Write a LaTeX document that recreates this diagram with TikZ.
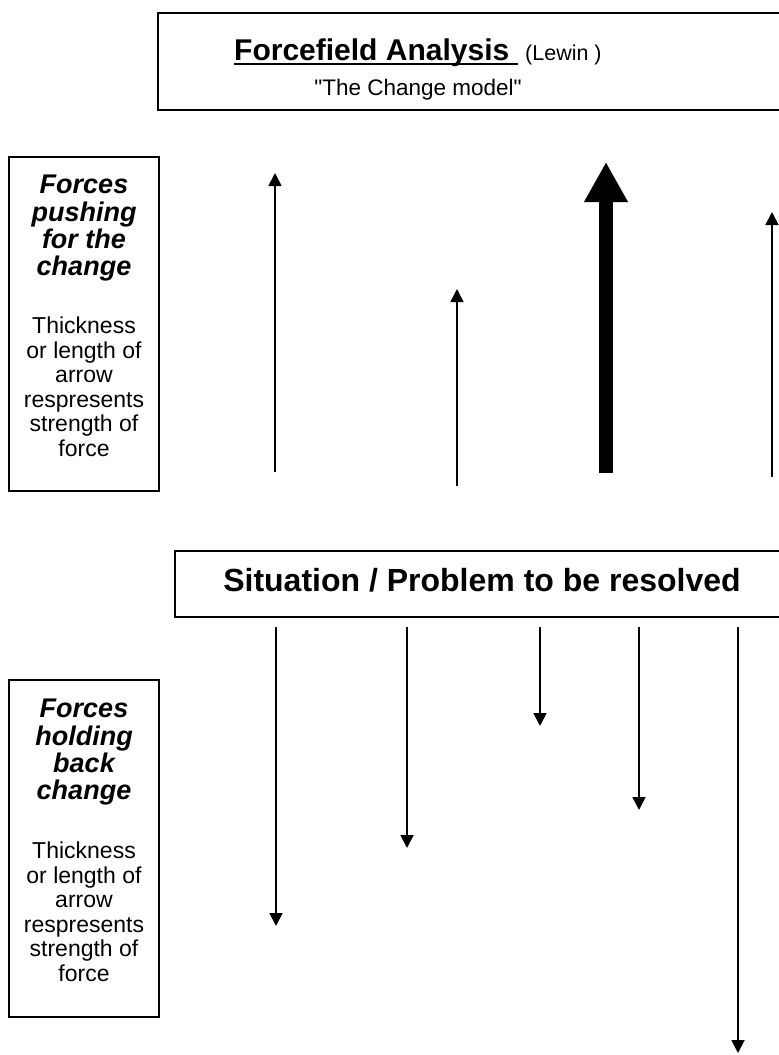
\documentclass[tikz,border=0pt]{standalone}
\usepackage{fontspec}
\setmainfont{Liberation Sans}
\newfontfamily\plainquotes{Liberation Sans}[Ligatures=TeXOff]
\usetikzlibrary{arrows.meta}
\tikzset{
  frame/.style={draw=black, line width=1.2pt},
  uparrow/.style={line width=1.8pt, -{Triangle[length=13pt,width=13pt]}},
  bigarrow/.style={line width=14pt, -{Triangle[length=40pt,width=41pt]}},
  headtxt/.style={font=\fontsize{27}{27.3}\selectfont\bfseries\itshape, align=center, inner sep=0pt, anchor=north},
  smalltxt/.style={font=\fontsize{23}{24.5}\selectfont, align=center, inner sep=0pt, anchor=north},
}
\begin{document}
\begin{tikzpicture}[x=1pt,y=-1pt]
\useasboundingbox (0,0) rectangle (779,1055);
% title box
\draw[frame] (158,13) rectangle (790,110);
\node[anchor=base west, inner sep=0pt, font=\fontsize{30}{36}\selectfont\bfseries] (title) at (234,60) {Forcefield Analysis\phantom{ }};
\draw[line width=2pt] ([yshift=-4pt]title.base west) -- ([yshift=-4pt]title.base east);
\node[anchor=base west, inner sep=0pt, font=\fontsize{21.5}{26}\selectfont] (lewin) at (525,60) {(Lewin )};
\node[anchor=base, inner sep=0pt, font=\fontsize{22.5}{27}\plainquotes\selectfont] (sub) at (418,95) {"The Change model"};
% left boxes
\draw[frame] (9,157) rectangle (159,491);
\node[headtxt] (f1) at (84,175) {Forces\\pushing\\for the\\change};
\node[smalltxt] (s1) at (84,317) {Thickness\\or length of\\arrow\\respresents\\strength of\\force};
\draw[frame] (9,680) rectangle (159,1017);
\node[headtxt] (f2) at (84,699) {Forces\\holding\\back\\change};
\node[smalltxt] (s2) at (84,842) {Thickness\\or length of\\arrow\\respresents\\strength of\\force};
% situation box
\draw[frame] (175,551) rectangle (790,617);
\node[anchor=base, inner sep=0pt, font=\fontsize{32}{38}\selectfont\bfseries] (sit) at (482,591) {Situation / Problem to be resolved};
% up arrows
\coordinate (u1a) at (275,472); \coordinate (u1b) at (275,173);
\coordinate (u2a) at (457,486); \coordinate (u2b) at (457,289);
\coordinate (u3a) at (606,473); \coordinate (u3b) at (606,162);
\coordinate (u4a) at (772,477); \coordinate (u4b) at (772,212);
\draw[uparrow] (u1a) -- (u1b);
\draw[uparrow] (u2a) -- (u2b);
\draw[bigarrow] (u3a) -- (u3b);
\draw[uparrow] (u4a) -- (u4b);
% down arrows
\coordinate (d1a) at (276,627); \coordinate (d1b) at (276,926);
\coordinate (d2a) at (407,627); \coordinate (d2b) at (407,848);
\coordinate (d3a) at (540,627); \coordinate (d3b) at (540,726);
\coordinate (d4a) at (639,627); \coordinate (d4b) at (639,810);
\coordinate (d5a) at (738,627); \coordinate (d5b) at (738,1053);
\draw[uparrow] (d1a) -- (d1b);
\draw[uparrow] (d2a) -- (d2b);
\draw[uparrow] (d3a) -- (d3b);
\draw[uparrow] (d4a) -- (d4b);
\draw[uparrow] (d5a) -- (d5b);
\end{tikzpicture}
\end{document}
